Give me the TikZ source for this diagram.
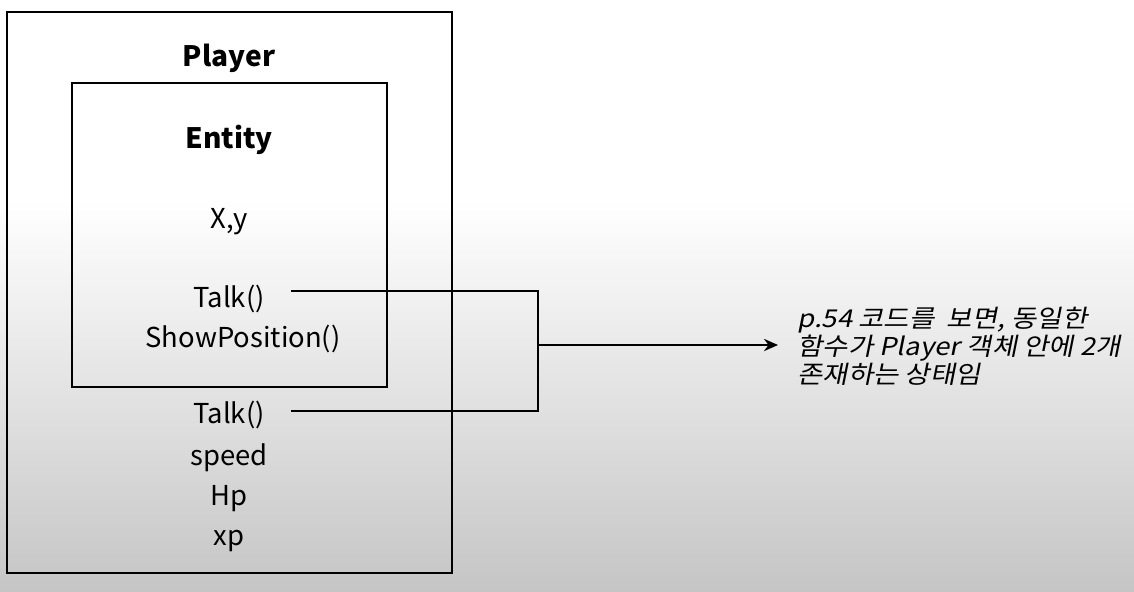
\documentclass[tikz,border=0pt]{standalone}
\usepackage{fontspec}
\setmainfont{Noto Sans CJK KR}
\newfontfamily\krfont[FakeSlant=0.2,FakeStretch=1.12]{Noto Sans CJK KR}
\usetikzlibrary{arrows.meta}

\tikzset{
  member/.style={inner sep=0pt, anchor=base, font=\fontsize{15.6}{19}\selectfont},
  title/.style={member, font=\fontsize{16}{19}\selectfont\bfseries},
  note/.style={inner sep=0pt, align=left, anchor=west,
    font=\krfont\fontsize{14}{14.8}\selectfont},
  wire/.style={line width=1pt}
}

\begin{document}
\begin{tikzpicture}[x=0.02cm,y=-0.02cm]
      % background
      \fill[white] (0,0) rectangle (1134,592);
      \shade[top color=white, bottom color={rgb,255:red,197;green,197;blue,197}]
      (0,200) rectangle (1134,592);
      \useasboundingbox (0,0) rectangle (1134,592);
      % boxes
      \draw[wire] (7,12) rectangle (452,573);
      \draw[wire] (72,83) rectangle (387,387);
      % texts
      \node[title] (player) at (229,66) {Player};
      \node[title] (entity) at (229,148) {Entity};
      \node[member] (xy) at (229,228) {X,y};
      \node[member] (talkA) at (229,307) {Talk()};
      \node[member] (showpos) at (243,347) {ShowPosition()};
      \node[member] (talkB) at (229,423) {Talk()};
      \node[member] (speed) at (229,465) {speed};
      \node[member] (hp) at (229,505) {Hp};
      \node[member] (xp) at (229,545) {xp};
      \node[note] (remark) at (797,346)
      {p.54 코드를\ \ 보면, 동일한\\함수가 Player 객체 안에 2개\\존재하는 상태임};
      % connectors
      \coordinate (jA) at (538,291);
      \coordinate (jB) at (538,411);
      \coordinate (jM) at (538,345);
      \draw[wire] ([xshift=0.52cm]talkA.east |- jA) -- (jA) -- (jB) -- ([xshift=0.52cm]talkB.east |- jB);
      \draw[wire,-{Stealth[length=8pt,width=7pt]}] (jM) -- ([xshift=-0.38cm]remark.west |- jM);
    \end{tikzpicture}
\end{document}
